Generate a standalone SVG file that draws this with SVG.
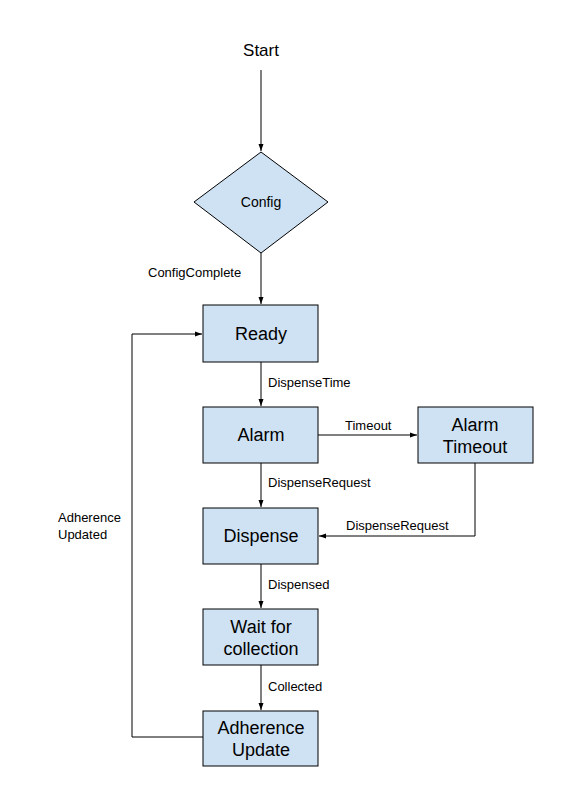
<svg xmlns="http://www.w3.org/2000/svg" width="582" height="808" viewBox="0 0 582 808">
<style>
.n{fill:#cfe2f3;stroke:#000;stroke-width:1}
.t{font-family:"Liberation Sans",Arial,sans-serif;font-size:18px;fill:#000;text-anchor:middle}
.l{font-family:"Liberation Sans",Arial,sans-serif;font-size:13px;fill:#000}
.e{fill:none;stroke:#000;stroke-width:1}
</style>
<defs>
<marker id="a" markerWidth="8" markerHeight="8" refX="7" refY="4" orient="auto" markerUnits="userSpaceOnUse">
<path d="M0,1.5 L7,4 L0,6.5 Z" fill="#000"/>
</marker>
</defs>
<rect width="582" height="808" fill="#fff"/>
<g id="connectors">
<path class="e" d="M261,70 L261,151" marker-end="url(#a)"/>
<path class="e" d="M261,253 L261,304" marker-end="url(#a)"/>
<path class="e" d="M261,362 L261,406" marker-end="url(#a)"/>
<path class="e" d="M318,435 L417,435" marker-end="url(#a)"/>
<path class="e" d="M261,463 L261,507" marker-end="url(#a)"/>
<path class="e" d="M475,463 L475,536 L319,536" marker-end="url(#a)"/>
<path class="e" d="M261,564 L261,608" marker-end="url(#a)"/>
<path class="e" d="M261,665 L261,710" marker-end="url(#a)"/>
<path class="e" d="M203,737 L132,737 L132,334 L202,334" marker-end="url(#a)"/>
<text class="l" x="148" y="277">ConfigComplete</text>
<text class="l" x="268" y="387">DispenseTime</text>
<text class="l" x="345" y="430">Timeout</text>
<text class="l" x="268" y="487">DispenseRequest</text>
<text class="l" x="346" y="530">DispenseRequest</text>
<text class="l" x="268" y="589">Dispensed</text>
<text class="l" x="268" y="691">Collected</text>
<text class="l" x="58" y="522">Adherence</text>
<text class="l" x="58" y="539">Updated</text>
</g>
<g id="start"><text class="t" x="261" y="56" style="font-size:17px">Start</text></g>
<g id="config">
<polygon class="n" points="261,152 328,202 261,253 194,202"/>
<text class="t" x="261" y="207" style="font-size:14px">Config</text>
</g>
<g id="ready"><rect class="n" x="203" y="305" width="115" height="57"/><text class="t" x="261" y="340">Ready</text></g>
<g id="alarm"><rect class="n" x="203" y="407" width="115" height="56"/><text class="t" x="261" y="441">Alarm</text></g>
<g id="alarmTimeout"><rect class="n" x="418" y="407" width="115" height="56"/><text class="t" x="475" y="431">Alarm</text><text class="t" x="475" y="453">Timeout</text></g>
<g id="dispense"><rect class="n" x="203" y="508" width="115" height="56"/><text class="t" x="261" y="542">Dispense</text></g>
<g id="wait"><rect class="n" x="203" y="609" width="115" height="56"/><text class="t" x="261" y="633">Wait for</text><text class="t" x="261" y="655">collection</text></g>
<g id="adherence"><rect class="n" x="203" y="711" width="115" height="55"/><text class="t" x="261" y="734">Adherence</text><text class="t" x="261" y="756">Update</text></g>
</svg>
